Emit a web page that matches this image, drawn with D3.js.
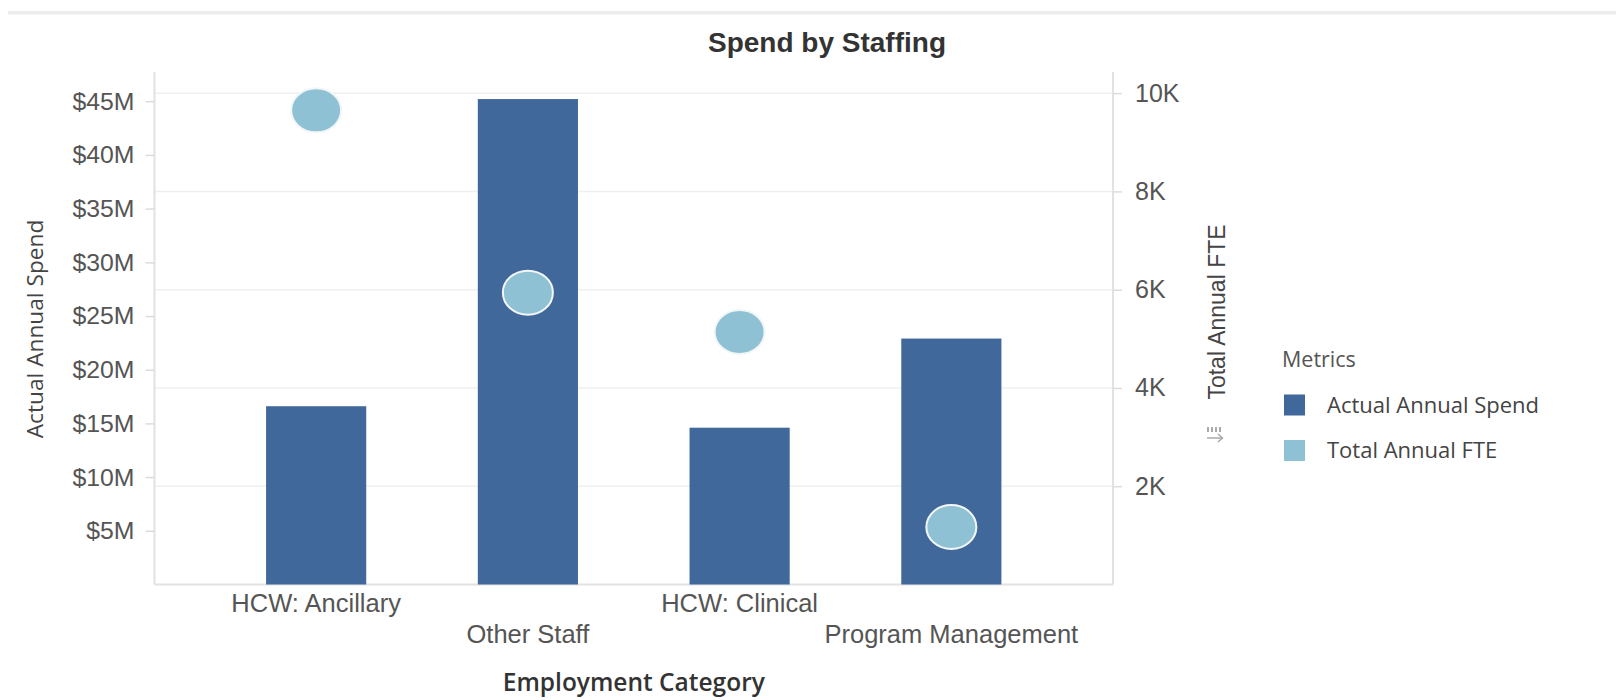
<!DOCTYPE html>
<html>
<head>
<meta charset="utf-8">
<script src="https://cdn.jsdelivr.net/npm/d3@7"></script>
<style>
  html, body { margin: 0; padding: 0; background: #fff; }
  svg { display: block; }
</style>
</head>
<body>
<svg id="chart" width="1616" height="700"></svg>
<script>
// Spend and headcount per employment category
const categories = ["HCW: Ancillary", "Other Staff", "HCW: Clinical", "Program Management"];
const spendValues = [16.6e6, 45.2e6, 14.6e6, 22.9e6];   // Actual Annual Spend ($)
const fteValues = [9650, 5940, 5140, 1170];              // Total Annual FTE
const spendTicks = [5e6, 10e6, 15e6, 20e6, 25e6, 30e6, 35e6, 40e6, 45e6];
const fteTicks = [2000, 4000, 6000, 8000, 10000];
const seriesNames = ["Actual Annual Spend", "Total Annual FTE"];
const seriesColors = ["#41689a", "#8ec1d3"];

const svg = d3.select("#chart");
const plot = { left: 154.5, right: 1113, top: 72, bottom: 584.5 };
const tickFont = "'Liberation Sans', Arial, sans-serif";
const uiFont = "'Open Sans', 'Noto Sans', sans-serif";

// header divider
svg.append("rect").attr("x", 8).attr("y", 11).attr("width", 1608).attr("height", 3).attr("fill", "#ececec");
svg.append("rect").attr("x", 8).attr("y", 14).attr("width", 1608).attr("height", 1).attr("fill", "#f6f6f6");

// scales
const x = d3.scaleBand().domain(categories).range([plot.left, plot.right]).padding(0.527);
const ySpend = d3.scaleLinear().domain([0, 47.72e6]).range([plot.bottom, plot.top]);
const yFte = d3.scaleLinear().domain([0, 10430]).range([plot.bottom, plot.top]);

// gridlines follow the FTE axis
svg.append("g").selectAll("line").data(fteTicks).join("line")
  .attr("x1", plot.left).attr("x2", plot.right)
  .attr("y1", d => yFte(d)).attr("y2", d => yFte(d))
  .attr("stroke", "#efefef").attr("stroke-width", 1.5);

// plot frame: left, right, bottom
const frame = svg.append("g").attr("stroke", "#e2e2e2").attr("stroke-width", 2);
frame.append("line").attr("x1", plot.left).attr("x2", plot.left).attr("y1", plot.top).attr("y2", plot.bottom);
frame.append("line").attr("x1", plot.right).attr("x2", plot.right).attr("y1", plot.top).attr("y2", plot.bottom);
frame.append("line").attr("x1", plot.left).attr("x2", plot.right).attr("y1", plot.bottom).attr("y2", plot.bottom);

// bars: annual spend
svg.append("g").selectAll("rect").data(categories).join("rect")
  .attr("x", d => x(d))
  .attr("width", x.bandwidth())
  .attr("y", (d, i) => ySpend(spendValues[i]))
  .attr("height", (d, i) => ySpend(0) - ySpend(spendValues[i]))
  .attr("fill", seriesColors[0]);

// bubbles: FTE
svg.append("g").selectAll("ellipse").data(categories).join("ellipse")
  .attr("cx", d => x(d) + x.bandwidth() / 2)
  .attr("cy", (d, i) => yFte(fteValues[i]))
  .attr("rx", 25).attr("ry", 22)
  .attr("fill", seriesColors[1])
  .attr("stroke", "#f2f6f8").attr("stroke-width", 2);

// left axis
const leftAxis = svg.append("g").attr("transform", `translate(${plot.left},0)`)
  .call(d3.axisLeft(ySpend).tickValues(spendTicks).tickSize(9).tickPadding(11)
    .tickFormat(d => `$${d / 1e6}M`));
leftAxis.select(".domain").remove();
leftAxis.selectAll(".tick line").attr("stroke", "#dcdcdc").attr("stroke-width", 1.5);
leftAxis.selectAll(".tick text").attr("fill", "#555").style("font", `24.8px ${tickFont}`);

// right axis
const rightAxis = svg.append("g").attr("transform", `translate(${plot.right},0)`)
  .call(d3.axisRight(yFte).tickValues(fteTicks).tickSize(9).tickPadding(13)
    .tickFormat(d => `${d / 1000}K`));
rightAxis.select(".domain").remove();
rightAxis.selectAll(".tick line").attr("stroke", "#dcdcdc").attr("stroke-width", 1.5);
rightAxis.selectAll(".tick text").attr("fill", "#555").style("font", `25px ${tickFont}`);

// bottom axis with staggered labels
const bottomAxis = svg.append("g").attr("transform", `translate(0,${plot.bottom})`)
  .call(d3.axisBottom(x).tickSize(0));
bottomAxis.select(".domain").remove();
bottomAxis.selectAll(".tick text")
  .attr("y", (d, i) => i % 2 === 0 ? 18.5 : 49.5)
  .attr("dy", "0.35em")
  .attr("fill", "#555")
  .style("font", `25.5px ${tickFont}`);

// titles
svg.append("text").attr("x", 827).attr("y", 42).attr("dy", "0.35em")
  .attr("text-anchor", "middle").attr("fill", "#333")
  .style("font", `bold 28px ${tickFont}`).text("Spend by Staffing");

svg.append("text").attr("transform", "translate(35,329) rotate(-90)")
  .attr("dy", "0.35em").attr("text-anchor", "middle").attr("fill", "#444")
  .style("font", `22.7px ${uiFont}`).text("Actual Annual Spend");

svg.append("text").attr("transform", "translate(1217,312) rotate(-90)")
  .attr("dy", "0.35em").attr("text-anchor", "middle").attr("fill", "#444")
  .style("font", `23px ${tickFont}`).text("Total Annual FTE");

svg.append("text").attr("x", 633.8).attr("y", 682).attr("dy", "0.35em")
  .attr("text-anchor", "middle").attr("fill", "#333")
  .style("font", `600 24.5px ${uiFont}`).text("Employment Category");

// sort indicator beside the right axis title
const icon = svg.append("g").attr("fill", "#aaa").attr("stroke", "#aaa");
icon.selectAll("rect").data(d3.range(4)).join("rect")
  .attr("x", i => 1207 + i * 4).attr("y", 427).attr("width", 2).attr("height", 5).attr("stroke", "none");
icon.append("line").attr("x1", 1207).attr("x2", 1222).attr("y1", 438).attr("y2", 438).attr("stroke-width", 1.5);
icon.append("path").attr("d", "M1218,434 L1222.5,438 L1218,442").attr("fill", "none").attr("stroke-width", 1.5);

// legend
const legend = svg.append("g").attr("transform", "translate(1282,0)");
legend.append("text").attr("x", 0).attr("y", 359).attr("dy", "0.35em")
  .attr("fill", "#555").style("font", `21.5px ${uiFont}`).text("Metrics");
const items = legend.selectAll("g.item").data(seriesNames).join("g")
  .attr("class", "item")
  .attr("transform", (d, i) => `translate(0,${405 + i * 45.5})`);
items.append("rect").attr("x", 2).attr("y", -10.5).attr("width", 21).attr("height", 21)
  .attr("fill", (d, i) => seriesColors[i]);
items.append("text").attr("x", 45).attr("y", 0).attr("dy", "0.35em")
  .attr("fill", "#444").style("font", `22px ${uiFont}`).text(d => d);
</script>
</body>
</html>
